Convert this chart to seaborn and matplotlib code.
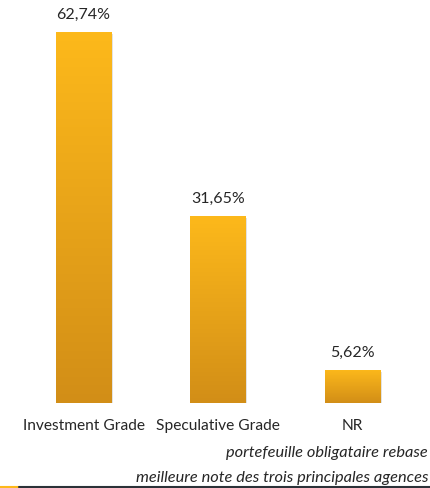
import numpy as np
import pandas as pd
import matplotlib
matplotlib.use("Agg")
import matplotlib.pyplot as plt
import matplotlib.patheffects as pe
from matplotlib.colors import LinearSegmentedColormap
import seaborn as sns

categories = ["Investment Grade", "Speculative Grade", "NR"]
values = [62.74, 31.65, 5.62]
value_labels = ["62,74%", "31,65%", "5,62%"]
footnote_1 = "portefeuille obligataire rebase"
footnote_2 = "meilleure note des trois principales agences"

sns.set_theme(style="white")
plt.rcParams["font.family"] = ["Lato", "DejaVu Sans"]

df = pd.DataFrame({"cat": categories, "val": values})

fig = plt.figure(figsize=(4.30, 4.89), dpi=100)
ax = fig.add_axes([0.0, 85 / 489, 1.0, 402 / 489])

sns.barplot(data=df, x="cat", y="val", color="#F0A81C", width=0.41,
            saturation=1, ax=ax)

cmap = LinearSegmentedColormap.from_list("g", ["#D28E17", "#FDB91B"])
grad = np.linspace(0, 1, 256).reshape(-1, 1)
for p, lab in zip(ax.patches, value_labels):
    p.set_path_effects([pe.SimplePatchShadow(offset=(1.5, -1.5),
                                             shadow_rgbFace="#9a9a9a", alpha=0.35),
                        pe.Normal()])
    x0, y0 = p.get_x(), p.get_y()
    w, h = p.get_width(), p.get_height()
    im = ax.imshow(grad, cmap=cmap, origin="lower", aspect="auto",
                   extent=[x0, x0 + w, y0, y0 + h], zorder=3)
    im.set_clip_path(p)
    ax.text(x0 + w / 2, y0 + h + 3.1, lab, ha="center", va="center",
            fontsize=11.5, color="#262626")

ax.set_xlim(-0.622, 2.58)
ax.set_ylim(0, 68)
ax.set_xlabel("")
ax.set_ylabel("")
ax.set_yticks([])
ax.tick_params(axis="x", length=0, pad=11, labelsize=11.2, colors="#262626")
for s in ax.spines.values():
    s.set_visible(False)

fig.text(428 / 430, 1 - 453 / 489, footnote_1, ha="right", va="center",
         fontsize=11.8, style="italic", color="#262626")
fig.text(428 / 430, 1 - 478 / 489, footnote_2, ha="right", va="center",
         fontsize=11.8, style="italic", color="#262626")

fig.add_artist(plt.Line2D([0, 19 / 430], [1 - 488 / 489] * 2, color="#FDB91B",
                          lw=1.5, transform=fig.transFigure))
fig.add_artist(plt.Line2D([19 / 430, 1], [1 - 488 / 489] * 2, color="#2B3238",
                          lw=1.5, transform=fig.transFigure))

fig.savefig("out.png", dpi=100)
